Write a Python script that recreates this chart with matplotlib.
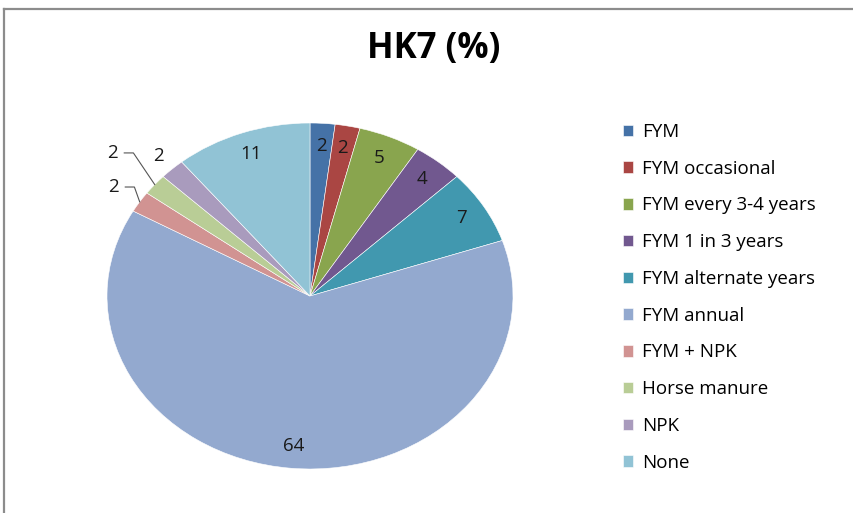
import numpy as np
import matplotlib
matplotlib.use("Agg")
import matplotlib.pyplot as plt
from matplotlib.lines import Line2D

plt.rcParams['font.family'] = ['Open Sans', 'DejaVu Sans']

categories = ['FYM', 'FYM occasional', 'FYM every 3-4 years', 'FYM 1 in 3 years',
              'FYM alternate years', 'FYM annual', 'FYM + NPK', 'Horse manure',
              'NPK', 'None']
values = [2, 2, 5, 4, 7, 64, 2, 2, 2, 11]
colors = ['#4572A7', '#AA4643', '#89A54E', '#71588F', '#4198AF',
          '#93A9CF', '#D19392', '#B9CD96', '#A99BBD', '#91C3D5']

fig = plt.figure(figsize=(8.54, 5.13), dpi=100)
fig.patch.set_facecolor('white')

# grey chart border (top and left edges visible)
fig.add_artist(Line2D([4 / 854, 4 / 854], [0, 1 - 9 / 513], color='#8c8c8c', lw=1.6))
fig.add_artist(Line2D([4 / 854, 1], [1 - 9 / 513, 1 - 9 / 513], color='#8c8c8c', lw=1.6))

ax = fig.add_axes([107 / 854, 44 / 513, 406 / 854, 346 / 513])
wedges, texts = ax.pie(values, colors=colors, startangle=90, counterclock=False,
                       radius=1, wedgeprops=dict(edgecolor='white', linewidth=0.4))
ax.set_aspect('auto')
ax.set_xlim(-1, 1)
ax.set_ylim(-1, 1)
ax.axis('off')

# data labels
lbl = dict(ha='center', va='center', fontsize=13.5, color='#1a1a1a')
outside = {'FYM + NPK': (-0.97, 0.63), 'Horse manure': (-0.975, 0.827)}
for w, name, v in zip(wedges, categories, values):
    mid = np.deg2rad((w.theta1 + w.theta2) / 2)
    ux, uy = np.cos(mid), np.sin(mid)
    if name in outside:
        tx, ty = outside[name]
        ax.text(tx, ty, str(v), **lbl)
        hx = tx + 0.105
        ax.plot([tx + 0.06, hx, ux], [ty, ty, uy], color='#555555', lw=0.8,
                clip_on=False)
    elif name == 'NPK':
        ax.text(ux * 1.1, uy * 1.1, str(v), **lbl)
    else:
        ax.text(ux * 0.87, uy * 0.87, str(v), **lbl)

fig.text(434 / 854, 1 - 49 / 513, 'HK7 (%)', ha='center', va='center',
         fontsize=25, fontweight='bold', color='black')

fig.legend(wedges, categories, loc='upper left', bbox_to_anchor=(623 / 854, 1 - 123 / 513),
           frameon=False, fontsize=13.5, handlelength=0.55, handleheight=0.55,
           handletextpad=0.45, labelspacing=1.0, borderaxespad=0, borderpad=0)

fig.savefig('out.png', dpi=100, facecolor='white')
